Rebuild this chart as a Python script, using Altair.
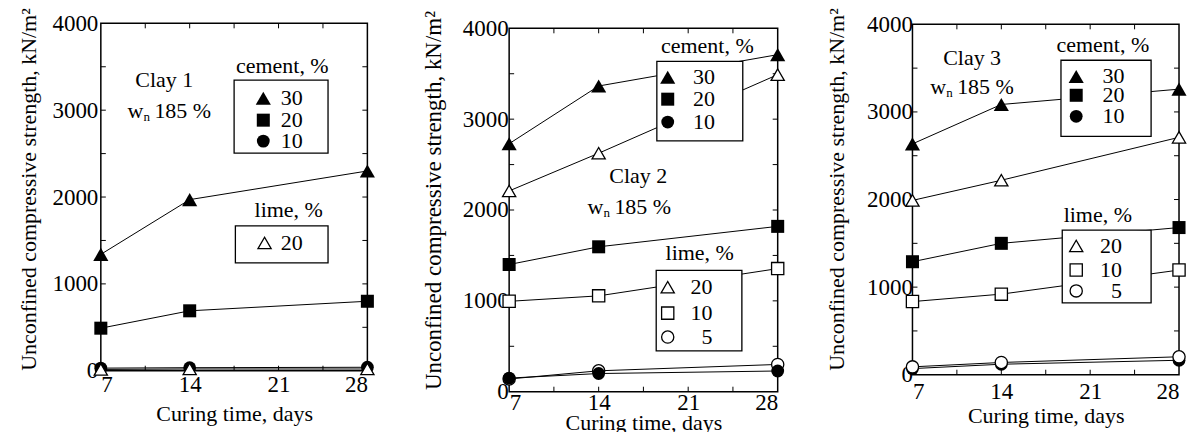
import altair as alt
import pandas as pd

FONT = "Liberation Serif"

days = [7, 14, 28]

# Clay 1 (kN/m^2)
clay1_cement30 = [1340, 1970, 2300]
clay1_cement20 = [490, 690, 800]
clay1_cement10 = [30, 35, 40]
clay1_lime20 = [15, 20, 20]

# Clay 2
clay2_cement30 = [2730, 3365, 3710]
clay2_cement20 = [1400, 1595, 1820]
clay2_cement10 = [150, 200, 228]
clay2_lime20 = [2210, 2625, 3490]
clay2_lime10 = [995, 1055, 1355]
clay2_lime5 = [140, 230, 300]

# Clay 3
clay3_cement30 = [2635, 3085, 3260]
clay3_cement20 = [1290, 1500, 1680]
clay3_cement10 = [70, 120, 165]
clay3_lime20 = [1990, 2220, 2710]
clay3_lime10 = [835, 920, 1195]
clay3_lime5 = [90, 140, 205]

x_labels = [7, 14, 21, 28]
y_labels = [0, 1000, 2000, 3000, 4000]
x_minor = [10.5, 14, 17.5, 21, 24.5]
y_minor = [500, 1000, 1500, 2000, 2500, 3000, 3500]

# marker style per series: (shape, filled, size)
STYLE = {
    "cement30": ("triangle-up", True, 230),
    "cement20": ("square", True, 170),
    "cement10": ("circle", True, 165),
    "lime20": ("triangle-up", False, 175),
    "lime10": ("square", False, 150),
    "lime5": ("circle", False, 150),
}
TXT = 22


class Panel:
    """One plot frame; l/t are blank margins inside the view before the frame."""

    def __init__(self, w, h, l=0, t=0):
        self.w, self.h, self.l, self.t = w, h, l, t
        self.xs = alt.Scale(domain=[7, 28], nice=False, zero=False, range=[l, l + w])
        self.ys = alt.Scale(domain=[0, 4000], nice=False, range=[t + h, t])

    def xy(self, xf, yf):
        return dict(x=alt.X(xf, scale=self.xs), y=alt.Y(yf, scale=self.ys))

    def series(self, series):
        lines, points = [], []
        for key, values in series.items():
            base = alt.Chart(pd.DataFrame({"day": days, "q": values}))
            lines.append(base.mark_line(color="black", strokeWidth=1).encode(
                **self.xy("day:Q", "q:Q")))
            points.append(self.symbol(base, key, "day:Q", "q:Q"))
        return lines + points

    def symbol(self, base, key, xf, yf):
        shape, filled, size = STYLE[key]
        return base.mark_point(
            shape=shape, size=size, filled=True,
            fill="black" if filled else "white", stroke="black",
            strokeWidth=0 if filled else 1.3, opacity=1).encode(**self.xy(xf, yf))

    def text(self, x, y, s, size=TXT, align="center", dx=0, dy=0):
        df = pd.DataFrame({"x": [x], "y": [y], "t": [s]})
        return alt.Chart(df).mark_text(
            font=FONT, fontSize=size, color="black", align=align,
            baseline="middle", dx=dx, dy=dy).encode(**self.xy("x:Q", "y:Q"), text="t:N")

    def note(self, name, pos_name, pos_wn):
        x, y = pos_wn
        return [
            self.text(pos_name[0], pos_name[1], name),
            self.text(x, y, "w", align="left", dx=-42),
            self.text(x, y, "n", size=13, align="left", dx=-26, dy=6),
            self.text(x, y, "185 %", align="left", dx=-15),
        ]

    def legend(self, title, title_xy, box, sym_x, txt_x, entries):
        x1, x2, y1, y2 = box
        bdf = pd.DataFrame({"x1": [x1], "x2": [x2], "y1": [y1], "y2": [y2]})
        enc = dict(x=alt.X("x1:Q", scale=self.xs), x2="x2:Q",
                   y=alt.Y("y1:Q", scale=self.ys), y2="y2:Q")
        layers = [
            alt.Chart(bdf).mark_rect(fill="black", xOffset=3, yOffset=3).encode(**enc),
            alt.Chart(bdf).mark_rect(fill="white", stroke="black", strokeWidth=1.3).encode(**enc),
            self.text(title_xy[0], title_xy[1], title),
        ]
        for key, label, yv in entries:
            base = alt.Chart(pd.DataFrame({"x": [sym_x], "y": [yv]}))
            layers.append(self.symbol(base, key, "x:Q", "y:Q"))
            layers.append(self.text(txt_x, yv, label, align="right"))
        return layers

    def frame(self, x_label_pad, x_title_y, y_label_pad, y_title_x, y_title_y, y_title_size):
        w, h, l, t = self.w, self.h, self.l, self.t
        fdf = pd.DataFrame({"x1": [7], "x2": [28], "y1": [0], "y2": [4000]})
        frame = alt.Chart(fdf).mark_rect(fill=None, stroke="black", strokeWidth=1.5).encode(
            x=alt.X("x1:Q", scale=self.xs, axis=alt.Axis(
                values=x_labels, format="d", ticks=False, domain=False, grid=False,
                tickSize=0, labelFont=FONT, labelFontSize=23, labelPadding=x_label_pad,
                labelColor="black", title="Curing time, days", titleFont=FONT,
                titleFontSize=TXT, titleFontWeight="normal", titleColor="black",
                titleY=x_title_y, titleBaseline="middle")),
            x2="x2:Q",
            y=alt.Y("y1:Q", scale=self.ys, axis=alt.Axis(
                values=y_labels, format="d", ticks=False, domain=False, grid=False,
                tickSize=0, offset=-l, labelFont=FONT, labelFontSize=23,
                labelPadding=y_label_pad, labelColor="black",
                title="Unconfined compressive strength, kN/m²", titleFont=FONT,
                titleFontSize=y_title_size, titleFontWeight="normal", titleColor="black",
                titleX=y_title_x, titleY=y_title_y, titleBaseline="middle")),
            y2="y2:Q")
        ydf = pd.DataFrame({"y": y_minor})
        xdf = pd.DataFrame({"x": x_minor})
        rule = dict(color="black", strokeWidth=1)
        ticks = [
            alt.Chart(ydf).mark_rule(**rule).encode(
                y=alt.Y("y:Q", scale=self.ys), x=alt.value(l), x2=alt.value(l + 5)),
            alt.Chart(ydf).mark_rule(**rule).encode(
                y=alt.Y("y:Q", scale=self.ys), x=alt.value(l + w - 5), x2=alt.value(l + w)),
            alt.Chart(xdf).mark_rule(**rule).encode(
                x=alt.X("x:Q", scale=self.xs), y=alt.value(t + h - 5), y2=alt.value(t + h)),
            alt.Chart(xdf).mark_rule(**rule).encode(
                x=alt.X("x:Q", scale=self.xs), y=alt.value(t), y2=alt.value(t + 5)),
        ]
        return [frame] + ticks

    def chart(self, layers):
        return alt.layer(*layers).properties(width=self.l + self.w, height=self.t + self.h)


# Clay 1
a = Panel(267, 348)
p1 = a.chart(
    a.frame(3, 43, 3, -72, 166, 22)
    + a.series({"cement10": clay1_cement10, "lime20": clay1_lime20,
                "cement20": clay1_cement20, "cement30": clay1_cement30})
    + a.note("Clay 1", (12.0, 3345), (12.4, 2990))
    + a.legend("cement, %", (21.3, 3505), (17.5, 24.9, 3345, 2506), 19.8, 22.9,
               [("cement30", "30", 3138), ("cement20", "20", 2885), ("cement10", "10", 2644)])
    + a.legend("lime, %", (21.8, 1850), (17.6, 24.9, 1667, 1241), 19.9, 22.9,
               [("lime20", "20", 1471)])
)

# Clay 2
b = Panel(269, 364, l=7, t=5)
p2 = b.chart(
    b.frame(0, 31, 1, -76, 177, 23)
    + b.series({"lime5": clay2_lime5, "cement10": clay2_cement10, "lime10": clay2_lime10,
                "cement20": clay2_cement20, "lime20": clay2_lime20,
                "cement30": clay2_cement30})
    + b.note("Clay 2", (17.1, 2377), (16.4, 2037))
    + b.legend("cement, %", (22.5, 3800), (18.55, 25.27, 3636, 2760), 19.4, 23.1,
               [("cement30", "30", 3461), ("cement20", "20", 3220), ("cement10", "10", 2968)])
    + b.legend("lime, %", (21.9, 1522), (18.5, 25.2, 1336, 449), 19.4, 22.9,
               [("lime20", "20", 1150), ("lime10", "10", 865), ("lime5", "5", 602)])
)

# Clay 3
c = Panel(267, 351, t=1)
p3 = c.chart(
    c.frame(6, 41, 0, -76, 166, 22)
    + c.series({"cement10": clay3_cement10, "lime5": clay3_lime5, "lime10": clay3_lime10,
                "cement20": clay3_cement20, "lime20": clay3_lime20,
                "cement30": clay3_cement30})
    + c.note("Clay 3", (11.7, 3610), (11.7, 3290))
    + c.legend("cement, %", (22.0, 3760), (18.7, 25.8, 3590, 2720), 19.9, 23.7,
               [("cement30", "30", 3405), ("cement20", "20", 3190), ("cement10", "10", 2950)])
    + c.legend("lime, %", (21.6, 1822), (18.8, 25.8, 1650, 820), 19.9, 23.5,
               [("lime20", "20", 1470), ("lime10", "10", 1196), ("lime5", "5", 957)])
)

chart = alt.hconcat(p1, p2, p3, spacing=135, bounds="flush").properties(
    padding={"left": 17, "top": 7, "right": 0, "bottom": 0},
    background="white",
).configure_view(stroke=None)

chart.save("out.html", embed_options={"renderer": "svg", "actions": False})
